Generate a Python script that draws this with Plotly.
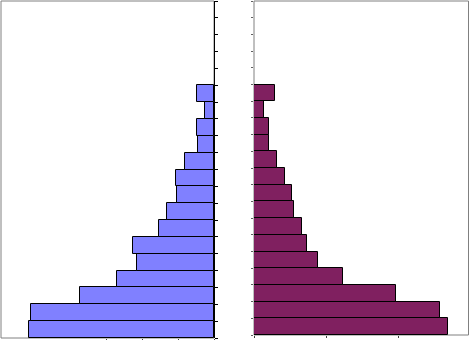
import plotly.graph_objects as go

# Age groups, bottom (youngest) to top (oldest)
ages = ["0-4", "5-9", "10-14", "15-19", "20-24", "25-29", "30-34", "35-39",
        "40-44", "45-49", "50-54", "55-59", "60-64", "65-69", "70-74",
        "75-79", "80-84", "85-89", "90-94", "95+"]

# Values (top bar first, down to the youngest group)
left_top_down = [0.48, 0.24, 0.48, 0.45, 0.81, 1.07, 1.04, 1.31, 1.54,
                 2.27, 2.16, 2.71, 3.75, 5.12, 5.19]
right_top_down = [0.59, 0.29, 0.43, 0.43, 0.65, 0.87, 1.05, 1.10, 1.33,
                  1.48, 1.77, 2.46, 3.95, 5.16, 5.40]

left_vals = list(reversed(left_top_down))
right_vals = list(reversed(right_top_down))
n = len(left_vals)
ypos = list(range(n))

left_xticks = [0, 1, 2, 3]
right_xticks = [0, 2, 4]
boundaries = [i - 0.5 for i in range(len(ages) + 1)]

W, H = 469, 340
fig = go.Figure()
fig.add_trace(go.Bar(x=left_vals, y=ypos, orientation="h", xaxis="x", yaxis="y",
                     marker=dict(color="#8080FF", line=dict(color="black", width=1)),
                     hoverinfo="skip", showlegend=False))
fig.add_trace(go.Bar(x=right_vals, y=ypos, orientation="h", xaxis="x2", yaxis="y2",
                     marker=dict(color="#802060", line=dict(color="black", width=1)),
                     hoverinfo="skip", showlegend=False))

lx0, lx1 = 1 / W, 214 / W
rx0, rx1 = 254 / W, 1.0
ly0, ly1 = 2 / H, 339 / H
ry0, ry1 = 5 / H, 339 / H

fig.update_layout(
    width=W, height=H, margin=dict(l=0, r=0, t=0, b=0),
    paper_bgcolor="white", plot_bgcolor="white", bargap=0,
    xaxis=dict(domain=[lx0, lx1], range=[5.97, 0], showgrid=False, zeroline=False,
               showline=False, ticks="outside", ticklen=2, tickcolor="#404040",
               tickvals=left_xticks, showticklabels=False, anchor="y"),
    yaxis=dict(domain=[ly0, ly1], range=[-0.5, len(ages) - 0.5], side="right",
               showgrid=False, zeroline=False, showline=True, linecolor="black",
               linewidth=1, ticks="outside", ticklen=3, tickcolor="black",
               tickvals=boundaries, showticklabels=False, anchor="x"),
    xaxis2=dict(domain=[rx0, rx1], range=[0, 5.97], showgrid=False, zeroline=False,
                showline=False, ticks="outside", ticklen=2, tickcolor="#404040",
                tickvals=right_xticks, showticklabels=False, anchor="y2"),
    yaxis2=dict(domain=[ry0, ry1], range=[-0.5, len(ages) - 0.5], side="left",
                showgrid=False, zeroline=False, showline=False,
                ticks="outside", ticklen=2, tickcolor="#606060",
                tickvals=boundaries, showticklabels=False, anchor="x2"),
    shapes=[
        dict(type="rect", xref="paper", yref="paper", x0=lx0, x1=lx1, y0=ly0, y1=ly1,
             line=dict(color="#808080", width=1), layer="below"),
        dict(type="rect", xref="paper", yref="paper", x0=rx0, x1=rx1 - 0.5 / W, y0=ry0, y1=ry1,
             line=dict(color="#808080", width=1), layer="below"),
    ],
)

fig.write_html("out.html")
